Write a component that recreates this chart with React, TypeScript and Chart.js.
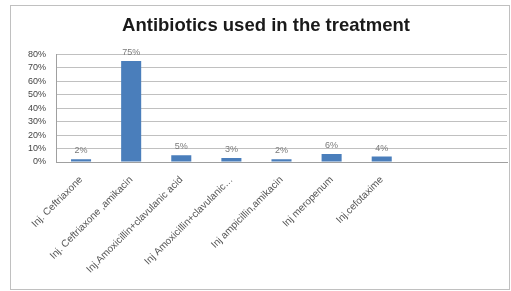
import React, { useEffect, useRef } from "react";
import { Chart, registerables } from "chart.js";

Chart.register(...registerables);

const categories = [
  "Inj. Ceftriaxone",
  "Inj. Ceftriaxone ,amikacin",
  "Inj.Amoxicillin+clavulanic acid",
  "Inj Amoxicillin+clavulanic…",
  "Inj ampicillin,amikacin",
  "Inj meropenum",
  "Inj.cefotaxime",
  "",
  "",
];
const values: (number | null)[] = [2, 75, 5, 3, 2, 6, 4, null, null];
const valueLabels = ["2%", "75%", "5%", "3%", "2%", "6%", "4%", "", ""];
const titleText = "Antibiotics used in the treatment";

const FONT = "'Liberation Sans', Arial, sans-serif";

const dataLabelPlugin = {
  id: "dataLabels",
  afterDatasetsDraw(chart: any) {
    const ctx = chart.ctx;
    const meta = chart.getDatasetMeta(0);
    ctx.save();
    ctx.font = "9px " + FONT;
    ctx.fillStyle = "#7a7a7a";
    ctx.textAlign = "center";
    ctx.textBaseline = "bottom";
    meta.data.forEach((el: any, i: number) => {
      if (values[i] == null) return;
      ctx.fillText(valueLabels[i], el.x, el.y - 4);
    });
    ctx.restore();
  },
};

export default function App() {
  const ref = useRef<HTMLCanvasElement>(null);
  useEffect(() => {
    if (!ref.current) return;
    const chart = new Chart(ref.current, {
      type: "bar",
      data: {
        labels: categories,
        datasets: [
          {
            data: values,
            backgroundColor: "#4a7ebb",
            borderWidth: 0,
            barPercentage: 0.5,
            categoryPercentage: 0.8,
          },
        ],
      },
      options: {
        animation: false,
        responsive: false,
        maintainAspectRatio: false,
        layout: { padding: { top: 0, right: 2, bottom: 0, left: 14 } },
        plugins: {
          legend: { display: false },
          tooltip: { enabled: false },
          title: {
            display: true,
            text: titleText,
            color: "#1a1a1a",
            font: { family: FONT, size: 18.5, weight: "bold" },
            padding: { top: 9, bottom: 17 },
          },
        },
        scales: {
          x: {
            grid: { display: false, drawTicks: false },
            border: { display: true, color: "#a0a0a0" },
            ticks: {
              maxRotation: 45,
              minRotation: 45,
              autoSkip: false,
              color: "#555555",
              padding: 12,
              font: { family: FONT, size: 10 },
            },
            afterFit(scale: any) {
              scale.height = 127;
            },
          },
          y: {
            min: 0,
            max: 80,
            grid: { color: "#c0c0c0", drawTicks: false },
            border: { display: true, color: "#a0a0a0" },
            ticks: {
              stepSize: 10,
              autoSkip: false,
              color: "#444444",
              padding: 10,
              font: { family: FONT, size: 9 },
              callback: (v: any) => v + "%",
            },
            afterFit(scale: any) {
              scale.width = 31;
            },
          },
        },
      },
      plugins: [dataLabelPlugin],
    });
    return () => chart.destroy();
  }, []);
  return (
    <div
      style={{
        position: "absolute",
        left: 10,
        top: 5,
        width: 498,
        height: 283,
        border: "1px solid #c0c0c0",
        background: "#fff",
      }}
    >
      <canvas ref={ref} width={498} height={283} style={{ display: "block" }} />
    </div>
  );
}
